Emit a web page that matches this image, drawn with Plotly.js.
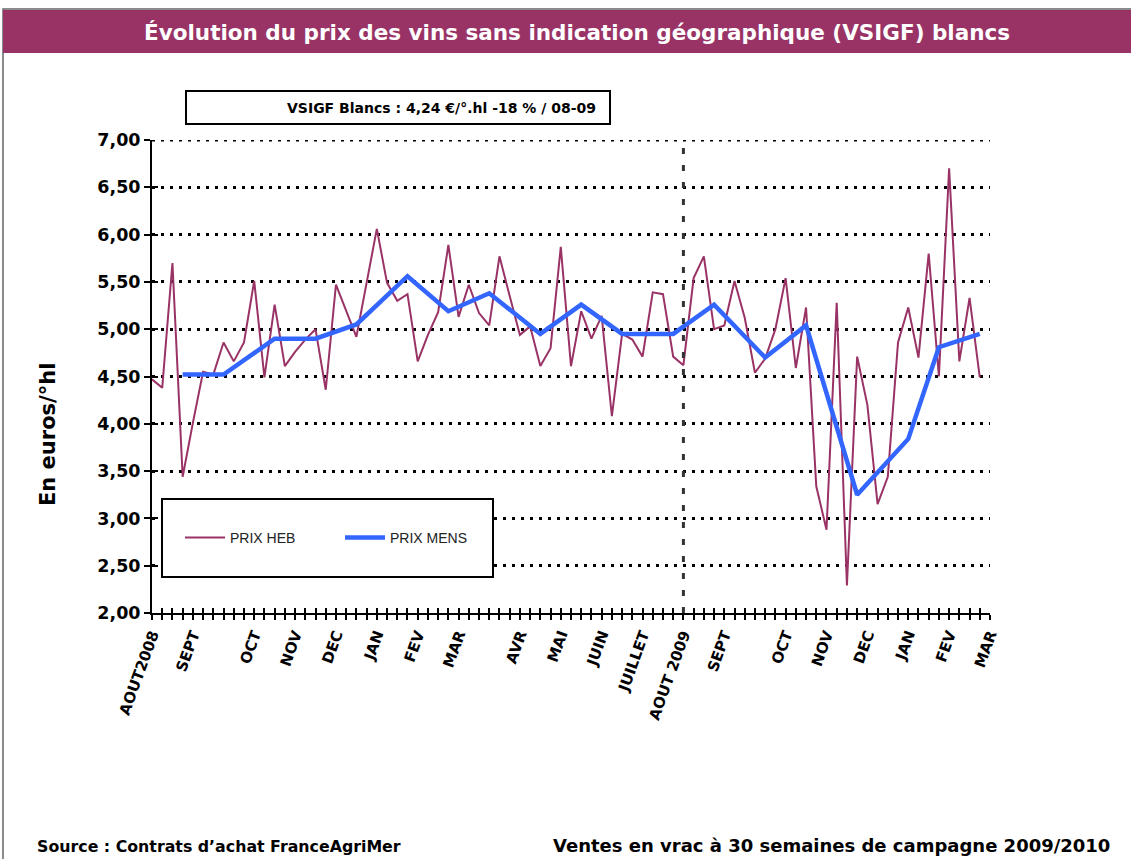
<!DOCTYPE html>
<html>
<head>
<meta charset="utf-8">
<script src="https://cdn.plot.ly/plotly-3.0.1.min.js"></script>
<style>
html,body{margin:0;padding:0;background:#fff;}
#chart{width:1131px;height:859px;}
</style>
</head>
<body>
<div id="chart"></div>
<script>
// ---- Data ----
const prixHeb = [4.47,4.38,5.70,3.44,4.01,4.55,4.52,4.86,4.66,4.86,5.51,4.49,5.26,4.61,4.76,4.89,5.00,4.36,5.47,5.20,
  4.92,5.49,6.06,5.49,5.30,5.37,4.66,4.94,5.18,5.89,5.13,5.47,5.17,5.04,5.77,5.35,4.94,5.03,4.61,4.80,
  5.87,4.61,5.19,4.90,5.14,4.08,4.95,4.89,4.71,5.39,5.37,4.71,4.62,5.54,5.77,5.00,5.04,5.51,5.12,4.54,
  4.69,5.00,5.54,4.59,5.23,3.34,2.88,5.28,2.29,4.71,4.20,3.15,3.44,4.86,5.23,4.70,5.80,4.50,6.70,4.66,
  5.33,4.49];
const weeks = prixHeb.map((_, i) => i);

const mensWeeks = [3,7,12,16,20,25,29,33,38,42,46,51,55,60,64,69,74,77,81];
const prixMens  = [4.52,4.52,4.90,4.90,5.05,5.56,5.19,5.38,4.95,5.26,4.95,4.95,5.26,4.70,5.04,3.25,3.84,4.81,4.95];

const monthLabels = ['AOUT2008','SEPT','OCT','NOV','DEC','JAN','FEV','MAR','AVR','MAI','JUIN','JUILLET',
  'AOUT 2009','SEPT','OCT','NOV','DEC','JAN','FEV','MAR'];
const monthWeeks = [0,4,10,14,18,22,26,30,36,40,44,48,52,56,62,66,70,74,78,82];
const nSlots = 82;
const yMin = 2, yMax = 7;

const titleText = 'Évolution du prix des vins sans indication géographique (VSIGF) blancs';
const infoText = 'VSIGF Blancs : 4,24 €/°.hl -18 % / 08-09';
const yTitle = 'En euros/°hl';
const sourceText = 'Source : Contrats d\u2019achat FranceAgriMer';
const noteText = 'Ventes en vrac à 30 semaines de campagne 2009/2010';

// ---- Layout helpers (pixel -> paper) ----
const W = 1131, H = 859, L = 152, R = 990, T = 140, B = 613;
const xp = px => (px - L) / (R - L);
const yp = py => (B - py) / (B - T);
const FONT = 'Liberation Sans, Arial, sans-serif';
const WIDE = 'DejaVu Sans, Verdana, sans-serif';
const campaignStart = monthWeeks[monthLabels.indexOf('AOUT 2009')];
const GRID_DASH = '3px,6px';

const traces = [
  {x: weeks, y: prixHeb, type: 'scatter', mode: 'lines', name: 'PRIX HEB',
   line: {color: '#993366', width: 2}, hoverinfo: 'skip'},
  {x: mensWeeks, y: prixMens, type: 'scatter', mode: 'lines', name: 'PRIX MENS',
   line: {color: '#3366FF', width: 4.5}, hoverinfo: 'skip'},
  {x: [null], y: [null], xaxis: 'x2', yaxis: 'y2', showlegend: false, hoverinfo: 'skip', type: 'scatter'}
];

const layout = {
  width: W, height: H,
  margin: {l: L, r: W - R, t: T, b: H - B, pad: 0},
  paper_bgcolor: '#fff', plot_bgcolor: 'rgba(0,0,0,0)',
  separators: ', ',
  font: {family: FONT, color: '#000'},
  showlegend: true,
  legend: {orientation: 'h', x: xp(180), y: yp(538), xanchor: 'left', yanchor: 'middle',
    bgcolor: 'rgba(0,0,0,0)', borderwidth: 0, font: {size: 14, color: '#222', family: FONT},
    entrywidth: 105, entrywidthmode: 'pixels', itemwidth: 40},
  xaxis: {range: [0, nSlots], tickmode: 'array', tickvals: monthWeeks, ticktext: monthLabels,
    tickangle: -70, ticks: 'outside', ticklen: 5, tickwidth: 2, tickcolor: '#000',
    minor: {dtick: 1, tick0: 0, ticks: 'outside', ticklen: 5, tickwidth: 2, tickcolor: '#000', showgrid: false},
    showline: true, linecolor: '#000', linewidth: 2, showgrid: false, zeroline: false,
    tickfont: {size: 15, weight: 'bold', family: WIDE, color: '#000'}, fixedrange: true},
  xaxis2: {overlaying: 'x', anchor: 'y', side: 'bottom', range: [0, nSlots], tickmode: 'linear', tick0: 0, dtick: 1,
    ticks: 'inside', ticklen: 5, tickwidth: 2, tickcolor: '#000', showticklabels: false,
    showline: false, showgrid: false, zeroline: false},
  yaxis: {range: [yMin, yMax], tickmode: 'linear', tick0: 2, dtick: 0.5, tickformat: '.2f',
    ticks: 'outside', ticklen: 6, tickwidth: 2, tickcolor: '#000',
    showline: true, linecolor: '#000', linewidth: 2, zeroline: false,
    showgrid: true, gridcolor: '#000', gridwidth: 3, griddash: GRID_DASH,
    tickfont: {size: 17.5, weight: 'bold', family: WIDE, color: '#000'}, fixedrange: true},
  yaxis2: {overlaying: 'y', anchor: 'x', side: 'left', range: [yMin, yMax], tickmode: 'linear', tick0: 2, dtick: 0.5,
    ticks: 'inside', ticklen: 6, tickwidth: 2, tickcolor: '#000', showticklabels: false,
    showline: false, showgrid: false, zeroline: false},
  shapes: [
    {type: 'rect', xref: 'paper', yref: 'paper', x0: xp(3), x1: xp(1140), y0: yp(9), y1: yp(870),
     line: {color: '#666', width: 1.5}, fillcolor: 'rgba(0,0,0,0)', layer: 'below'},
    {type: 'rect', xref: 'paper', yref: 'paper', x0: xp(3), x1: xp(1135), y0: yp(10), y1: yp(53),
     line: {width: 0}, fillcolor: '#993366', layer: 'below'},
    {type: 'line', xref: 'paper', yref: 'y', x0: 0, x1: 1, y0: yMax, y1: yMax,
     line: {color: '#000', width: 3, dash: GRID_DASH}, layer: 'below'},
    {type: 'rect', xref: 'paper', yref: 'paper', x0: xp(186), x1: xp(610), y0: yp(91), y1: yp(124),
     line: {color: '#000', width: 2}, fillcolor: '#fff', layer: 'above'},
    {type: 'rect', xref: 'paper', yref: 'paper', x0: xp(162), x1: xp(493), y0: yp(499), y1: yp(577),
     line: {color: '#000', width: 2}, fillcolor: '#fff', layer: 'above'},
    {type: 'line', xref: 'x', yref: 'paper', x0: campaignStart, x1: campaignStart, y0: 0, y1: 1,
     line: {color: '#333', width: 3, dash: '6px,11px'}, layer: 'above'}
  ],
  annotations: [
    {text: titleText, xref: 'paper', yref: 'paper', x: xp(577), y: yp(32), xanchor: 'center', yanchor: 'middle',
     showarrow: false, font: {size: 21.5, color: '#fff', weight: 'bold', family: WIDE}},
    {text: infoText, xref: 'paper', yref: 'paper', x: xp(598), y: yp(107.5), xanchor: 'right', yanchor: 'middle',
     showarrow: false, font: {size: 14, color: '#000', weight: 'bold', family: WIDE}},
    {text: yTitle, xref: 'paper', yref: 'paper', x: xp(48), y: yp(435), xanchor: 'center', yanchor: 'middle',
     textangle: -90, showarrow: false, font: {size: 21, color: '#000', weight: 'bold', family: WIDE}},
    {text: sourceText, xref: 'paper', yref: 'paper', x: xp(35), y: yp(846), xanchor: 'left', yanchor: 'middle',
     showarrow: false, font: {size: 15.8, color: '#000', weight: 'bold', family: WIDE}},
    {text: noteText, xref: 'paper', yref: 'paper', x: xp(1112), y: yp(845), xanchor: 'right', yanchor: 'middle',
     showarrow: false, font: {size: 18, color: '#000', weight: 'bold', family: WIDE}}
  ]
};

Plotly.newPlot('chart', traces, layout, {staticPlot: true, displayModeBar: false});
</script>
</body>
</html>
